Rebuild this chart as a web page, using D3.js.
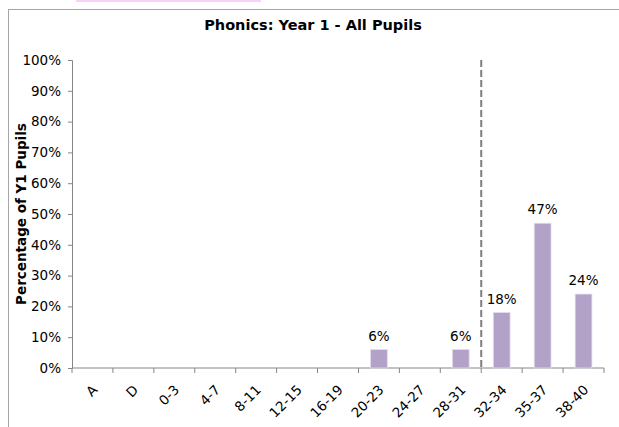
<!DOCTYPE html>
<html>
<head>
<meta charset="utf-8">
<script src="https://cdn.jsdelivr.net/npm/d3@7"></script>
<style>
  body { margin: 0; background: #fff; }
  text { font-family: "DejaVu Sans", Verdana, sans-serif; fill: #000; }
</style>
</head>
<body>
<div id="chart"></div>
<script>
// data
var categories = ["A", "D", "0-3", "4-7", "8-11", "12-15", "16-19", "20-23", "24-27", "28-31", "32-34", "35-37", "38-40"];
var values = [0, 0, 0, 0, 0, 0, 0, 6, 0, 6, 18, 47, 24];
var yTicks = [0, 10, 20, 30, 40, 50, 60, 70, 80, 90, 100];
var passMark = "32-34"; // dashed line sits left of this band

var W = 619, H = 427;
var margin = { top: 60, left: 72 };
var width = 604 - margin.left,
  height = 368 - margin.top;

var svg = d3.select("#chart").append("svg")
  .attr("width", W)
  .attr("height", H);

// pink strip at the top edge and the chart frame
svg.append("rect").attr("x", 76).attr("y", 0).attr("width", 185).attr("height", 2).attr("fill", "#f6d3f6");
svg.append("rect")
  .attr("x", 8.5).attr("y", 9.5)
  .attr("width", 640).attr("height", 440)
  .attr("fill", "none")
  .attr("stroke", "#a6a6a6");

svg.append("text")
  .attr("x", 313)
  .attr("y", 30)
  .attr("text-anchor", "middle")
  .style("font-weight", "bold")
  .style("font-size", "14.5px")
  .text("Phonics: Year 1 - All Pupils");

var g = svg.append("g")
  .attr("transform", "translate(" + margin.left + "," + margin.top + ")");

var x = d3.scaleBand().domain(categories).range([0, width]).paddingInner(0.59).paddingOuter(0.295);
var xb = d3.scaleBand().domain(categories).range([0, width]); // full band for ticks
var y = d3.scaleLinear().domain([0, 100]).range([height, 0]);

// y axis
var yAxis = g.append("g")
  .call(d3.axisLeft(y).tickValues(yTicks).tickSize(4).tickPadding(7).tickFormat(function (d) { return d + "%"; }));
yAxis.select(".domain").attr("stroke", "#868686");
yAxis.selectAll(".tick line").attr("stroke", "#868686");
yAxis.selectAll("text").style("font-size", "13.5px").style("font-family", "DejaVu Sans, Verdana, sans-serif").attr("fill", "#000");

// x axis: ticks on band edges
var xAxis = g.append("g").attr("transform", "translate(0," + height + ")");
xAxis.append("line").attr("x1", 0).attr("x2", width).attr("stroke", "#868686");
var edges = categories.map(function (c) { return xb(c); }).concat([width]);
xAxis.selectAll(".edge").data(edges).enter().append("line")
  .attr("x1", function (d) { return d; }).attr("x2", function (d) { return d; })
  .attr("y1", 0).attr("y2", 5)
  .attr("stroke", "#868686");
xAxis.selectAll(".lbl").data(categories).enter().append("text")
  .attr("transform", function (d) {
    return "translate(" + (xb(d) + xb.bandwidth() / 2 + 1) + ",18) rotate(-45)";
  })
  .attr("text-anchor", "end")
  .attr("dy", "0.5em")
  .style("font-size", "13.5px")
  .text(function (d) { return d; });

// dashed pass mark line
g.append("line")
  .attr("x1", xb(passMark)).attr("x2", xb(passMark))
  .attr("y1", 0).attr("y2", height)
  .attr("stroke", "#7f7f7f")
  .attr("stroke-width", 2)
  .attr("stroke-dasharray", "7,3");

// bars
var bars = categories.map(function (c, i) { return { cat: c, v: values[i] }; });
g.selectAll(".bar").data(bars.filter(function (d) { return d.v > 0; })).enter().append("rect")
  .attr("x", function (d) { return x(d.cat); })
  .attr("y", function (d) { return y(d.v); })
  .attr("width", x.bandwidth())
  .attr("height", function (d) { return height - y(d.v); })
  .attr("fill", "#b3a2c7")
  .attr("stroke", "#e4dcee")
  .attr("stroke-width", 0.8);

g.selectAll(".val").data(bars.filter(function (d) { return d.v > 0; })).enter().append("text")
  .attr("x", function (d) { return x(d.cat) + x.bandwidth() / 2; })
  .attr("y", function (d) { return y(d.v) - 9; })
  .attr("text-anchor", "middle")
  .style("font-size", "13.5px")
  .text(function (d) { return d.v + "%"; });

// y title
svg.append("text")
  .attr("transform", "translate(26," + (margin.top + height / 2) + ") rotate(-90)")
  .attr("text-anchor", "middle")
  .style("font-weight", "bold")
  .style("font-size", "13.5px")
  .text("Percentage of Y1 Pupils");
</script>
</body>
</html>
